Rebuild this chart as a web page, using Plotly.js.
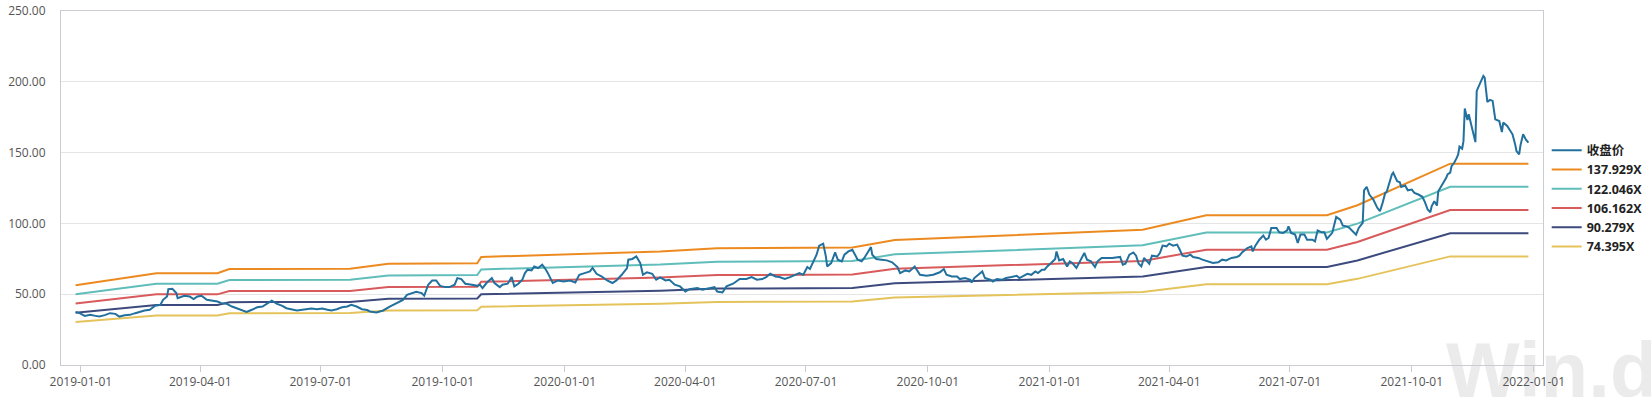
<!DOCTYPE html>
<html>
<head>
<meta charset="utf-8">
<script src="https://cdn.plot.ly/plotly-3.0.1.min.js"></script>
<style>
html,body{margin:0;padding:0;background:#fff;}
#chart{width:1651px;height:399px;}
</style>
</head>
<body>
<div id="chart"></div>
<script>
// ---- Close price (收盘价) ----
const priceDates = [
"2018-12-28","2018-12-31","2019-01-04","2019-01-08","2019-01-12","2019-01-15","2019-01-19","2019-01-23","2019-01-27","2019-01-30",
"2019-02-03","2019-02-07","2019-02-11","2019-02-15","2019-02-18","2019-02-22","2019-02-26","2019-03-02","2019-03-04","2019-03-07",
"2019-03-08","2019-03-11","2019-03-14","2019-03-15","2019-03-18","2019-03-20","2019-03-24","2019-03-27","2019-03-30","2019-04-02",
"2019-04-06","2019-04-10","2019-04-14","2019-04-17","2019-04-21","2019-04-25","2019-04-29","2019-05-02","2019-05-06","2019-05-10",
"2019-05-14","2019-05-18","2019-05-21","2019-05-25","2019-05-29","2019-06-02","2019-06-05","2019-06-09","2019-06-13","2019-06-17",
"2019-06-20","2019-06-24","2019-06-28","2019-07-02","2019-07-06","2019-07-09","2019-07-13","2019-07-17","2019-07-21","2019-07-24",
"2019-07-28","2019-08-01","2019-08-05","2019-08-07","2019-08-12","2019-08-17","2019-08-22","2019-08-27","2019-09-01","2019-09-04",
"2019-09-08","2019-09-11","2019-09-15","2019-09-17","2019-09-20","2019-09-23","2019-09-26","2019-09-29","2019-10-03","2019-10-06",
"2019-10-10","2019-10-12","2019-10-15","2019-10-18","2019-10-23","2019-10-27","2019-10-29","2019-10-31","2019-11-03","2019-11-07",
"2019-11-09","2019-11-13","2019-11-15","2019-11-19","2019-11-22","2019-11-24","2019-11-27","2019-11-30","2019-12-02","2019-12-04",
"2019-12-07","2019-12-09","2019-12-12","2019-12-15","2019-12-17","2019-12-19","2019-12-23","2019-12-27","2019-12-31","2020-01-05",
"2020-01-09","2020-01-12","2020-01-16","2020-01-20","2020-01-22","2020-01-25","2020-01-29","2020-02-02","2020-02-06","2020-02-09",
"2020-02-13","2020-02-17","2020-02-18","2020-02-21","2020-02-24","2020-02-27","2020-02-29","2020-03-03","2020-03-07","2020-03-10",
"2020-03-13","2020-03-17","2020-03-20","2020-03-24","2020-03-28","2020-04-01","2020-04-04","2020-04-10","2020-04-14","2020-04-19",
"2020-04-23","2020-04-25","2020-04-29","2020-05-02","2020-05-07","2020-05-12","2020-05-17","2020-05-21","2020-05-25","2020-05-29",
"2020-06-01","2020-06-04","2020-06-08","2020-06-11","2020-06-15","2020-06-19","2020-06-23","2020-06-26","2020-06-29","2020-07-02",
"2020-07-04","2020-07-06","2020-07-09","2020-07-11","2020-07-14","2020-07-16","2020-07-17","2020-07-20","2020-07-23","2020-07-25",
"2020-07-28","2020-07-30","2020-08-02","2020-08-05","2020-08-07","2020-08-09","2020-08-12","2020-08-14","2020-08-17","2020-08-19",
"2020-08-20","2020-08-23","2020-08-27","2020-08-31","2020-09-04","2020-09-08","2020-09-10","2020-09-14","2020-09-17","2020-09-21",
"2020-09-25","2020-09-30","2020-10-05","2020-10-10","2020-10-13","2020-10-15","2020-10-19","2020-10-23","2020-10-25","2020-10-29",
"2020-11-02","2020-11-03","2020-11-05","2020-11-08","2020-11-11","2020-11-13","2020-11-17","2020-11-19","2020-11-22","2020-11-26",
"2020-11-29","2020-12-03","2020-12-07","2020-12-09","2020-12-12","2020-12-15","2020-12-18","2020-12-21","2020-12-23","2020-12-26",
"2020-12-28","2020-12-30","2021-01-02","2021-01-05","2021-01-06","2021-01-08","2021-01-11","2021-01-14","2021-01-16","2021-01-18",
"2021-01-21","2021-01-24","2021-01-27","2021-01-29","2021-02-01","2021-02-04","2021-02-06","2021-02-09","2021-02-13","2021-02-17",
"2021-02-23","2021-02-25","2021-02-27","2021-03-02","2021-03-05","2021-03-07","2021-03-09","2021-03-11","2021-03-13","2021-03-15",
"2021-03-17","2021-03-19","2021-03-23","2021-03-25","2021-03-27","2021-03-30","2021-04-01","2021-04-04","2021-04-07","2021-04-09",
"2021-04-11","2021-04-14","2021-04-17","2021-04-19","2021-04-23","2021-04-26","2021-04-30","2021-05-04","2021-05-08","2021-05-11",
"2021-05-14","2021-05-18","2021-05-22","2021-05-24","2021-05-26","2021-05-28","2021-05-30","2021-06-02","2021-06-03","2021-06-05",
"2021-06-08","2021-06-11","2021-06-13","2021-06-15","2021-06-17","2021-06-21","2021-06-23","2021-06-26","2021-06-29","2021-06-30",
"2021-07-02","2021-07-05","2021-07-07","2021-07-09","2021-07-12","2021-07-14","2021-07-18","2021-07-20","2021-07-22","2021-07-25",
"2021-07-27","2021-07-29","2021-07-31","2021-08-02","2021-08-05","2021-08-08","2021-08-10","2021-08-13","2021-08-15","2021-08-17",
"2021-08-20","2021-08-22","2021-08-25","2021-08-26","2021-08-28","2021-08-30","2021-09-02","2021-09-05","2021-09-07","2021-09-09",
"2021-09-11","2021-09-12","2021-09-14","2021-09-16","2021-09-17","2021-09-20","2021-09-22","2021-09-23","2021-09-26","2021-09-28",
"2021-10-01","2021-10-03","2021-10-06","2021-10-09","2021-10-11","2021-10-13","2021-10-15","2021-10-16","2021-10-18","2021-10-20",
"2021-10-21","2021-10-24","2021-10-25","2021-10-27","2021-10-28","2021-10-30","2021-10-31","2021-11-02","2021-11-04","2021-11-05",
"2021-11-06","2021-11-08","2021-11-09","2021-11-10","2021-11-12","2021-11-13","2021-11-14","2021-11-16","2021-11-18","2021-11-19",
"2021-11-21","2021-11-24","2021-11-25","2021-11-27","2021-11-29","2021-12-01","2021-12-03","2021-12-06","2021-12-08","2021-12-09",
"2021-12-12","2021-12-14","2021-12-16","2021-12-18","2021-12-19","2021-12-21","2021-12-22","2021-12-24","2021-12-26","2021-12-28"
];
const closePrice = [
37.5,36.6,34.7,35.4,34.7,34.2,35.2,36.6,36.1,34.2,
35.2,35.4,36.6,37.7,38.5,39.0,41.8,42.5,46.0,48.4,
53.6,53.8,50.8,47.2,48.4,48.9,48.4,46.5,48.4,48.9,
46.0,45.5,44.8,43.7,43.2,41.3,40.1,39.0,37.5,39.0,
40.8,41.3,43.2,45.5,43.2,41.8,40.1,39.4,38.5,39.0,
39.4,39.9,39.4,39.9,39.0,38.5,39.4,40.8,41.3,42.5,
41.3,39.4,38.8,37.8,37.1,38.5,41.3,43.7,46.0,49.6,
50.8,51.7,50.8,48.9,56.7,59.7,59.7,55.9,55.0,55.0,
56.7,61.4,60.7,57.4,56.7,55.9,56.7,54.3,57.9,61.4,
57.9,55.0,56.7,57.4,62.1,55.5,57.4,60.2,64.9,67.3,
66.8,69.6,68.5,70.8,68.5,65.4,57.9,59.7,59.0,59.7,
58.3,63.7,64.9,66.1,68.5,64.4,62.5,59.7,57.9,59.7,
63.7,68.5,74.4,74.9,76.7,72.0,63.7,65.4,64.4,60.2,
61.8,59.7,60.2,56.7,55.5,51.9,53.6,54.3,53.1,54.3,
55.0,51.9,51.2,55.5,57.4,60.7,60.7,62.1,60.2,60.7,
62.1,64.4,62.5,62.1,60.7,62.1,63.7,64.9,63.7,69.2,
67.8,72.0,77.9,84.3,85.7,76.7,69.6,72.0,79.5,74.4,
73.2,77.9,80.2,81.4,77.9,74.4,73.2,75.6,80.2,83.3,
77.9,74.9,74.4,73.9,72.5,69.2,64.9,66.8,66.1,69.6,
63.7,63.0,63.7,65.5,67.8,63.7,62.5,62.5,60.7,61.4,
60.2,58.3,61.4,63.7,66.1,61.4,60.2,59.0,60.7,60.2,
61.4,62.1,63.0,61.4,63.0,64.4,63.7,66.1,64.9,67.3,
67.3,69.6,72.0,74.9,80.2,73.9,74.9,69.6,73.2,72.0,
68.5,73.9,79.1,74.4,73.2,69.2,73.2,75.6,75.6,75.6,
76.3,70.8,71.5,77.9,79.5,77.2,71.5,69.6,75.6,73.9,
71.5,77.2,76.7,79.1,84.3,83.8,85.7,84.3,85.0,81.4,
77.2,76.7,77.9,76.3,75.6,74.4,73.2,72.0,72.5,74.4,
73.9,75.6,76.3,77.2,79.5,81.0,82.6,83.8,80.2,84.3,
88.5,91.4,88.5,89.7,96.8,96.8,93.7,93.3,95.1,97.9,
93.3,92.1,86.2,92.1,92.1,88.5,88.5,87.3,95.1,93.7,
93.7,89.0,90.9,93.3,104.6,102.7,98.4,97.9,96.8,95.1,
92.1,96.8,100.4,123.4,125.8,120.4,116.9,111.0,108.6,114.5,
121.6,122.0,128.7,134.6,135.8,129.8,129.1,125.8,126.8,123.4,
123.9,121.6,120.4,118.8,114.9,109.8,107.9,112.1,115.7,112.6,
122.7,127.5,128.2,132.2,134.6,135.8,140.4,142.8,146.4,148.7,
154.2,152.8,158.1,181.1,173.0,177.1,173.0,165.2,157.4,193.6,
197.6,204.2,203.0,185.8,187.2,186.5,173.5,172.3,164.5,171.2,
168.8,165.9,162.9,155.8,151.1,148.7,155.1,162.9,159.3,157.0
];

// ---- PE band lines (values at the dates where their slope changes) ----
const bandDates = [
"2018-12-28","2019-02-27","2019-04-14","2019-04-23","2019-07-23","2019-08-21","2019-10-27","2019-10-30","2020-03-13",
"2020-04-25","2020-08-05","2020-09-06","2021-03-12","2021-04-29","2021-07-29","2021-08-21","2021-10-30","2021-12-28"
];
const band137 = [56.40,64.80,64.80,67.80,68.00,71.50,71.80,76.30,80.20,82.50,83.00,88.30,95.50,105.80,105.80,112.80,142.20,142.20];
const band122 = [49.90,57.34,57.34,59.99,60.17,63.27,63.53,67.51,70.96,73.00,73.44,78.13,84.50,93.62,93.62,99.81,125.82,125.82];
const band106 = [43.41,49.88,49.88,52.18,52.34,55.03,55.26,58.73,61.73,63.50,63.88,67.96,73.51,81.43,81.43,86.82,109.45,109.45];
const band90  = [36.92,42.41,42.41,44.38,44.51,46.80,46.99,49.94,52.49,54.00,54.33,57.79,62.51,69.25,69.25,73.83,93.07,93.07];
const band74  = [30.42,34.95,34.95,36.57,36.68,38.57,38.73,41.15,43.26,44.50,44.77,47.63,51.51,57.07,57.07,60.84,76.70,76.70];

const seriesNames = ["收盘价","137.929X","122.046X","106.162X","90.279X","74.395X"];
const seriesColors = ["#22709d","#ec8a20","#5fbdba","#d85a5b","#3c4a7d","#e5c35b"];
const yTicks = [0,50,100,150,200,250];

const bands = [band137, band122, band106, band90, band74];
const traces = [];
bands.forEach((b, i) => {
  traces.push({
    type: "scatter", mode: "lines", x: bandDates, y: b,
    name: seriesNames[i+1], legendrank: i+2,
    line: {color: seriesColors[i+1], width: 2}, hoverinfo: "skip"
  });
});
traces.push({
  type: "scatter", mode: "lines", x: priceDates, y: closePrice,
  name: seriesNames[0], legendrank: 1,
  line: {color: seriesColors[0], width: 2}
});

const layout = {
  width: 1651, height: 399,
  margin: {l: 61, r: 108, t: 11, b: 34, autoexpand: false},
  paper_bgcolor: "#ffffff", plot_bgcolor: "#ffffff",
  font: {family: "Open Sans, Noto Sans CJK SC, sans-serif", size: 12, color: "#555"},
  showlegend: true,
  legend: {
    x: 1.0025, xanchor: "left", y: 0.47, yanchor: "middle",
    font: {size: 12.5, color: "#222", weight: "bold", family: "Open Sans, Noto Sans CJK SC, sans-serif"},
    tracegroupgap: 0, itemwidth: 30, bgcolor: "rgba(0,0,0,0)"
  },
  xaxis: {
    type: "date",
    range: ["2018-12-17", "2022-01-08"],
    tick0: "2019-01-01", dtick: "M3", tickformat: "%Y-%m-%d",
    showgrid: false, zeroline: false, automargin: false,
    showline: true, linecolor: "#c9ccd3", linewidth: 1, mirror: true,
    ticks: "outside", ticklen: 6, tickcolor: "#c9ccd3",
    tickfont: {size: 12, color: "#555"}
  },
  yaxis: {
    range: [0, 250], tickvals: yTicks, tickformat: ".2f",
    showgrid: true, gridcolor: "#e5e5e5", gridwidth: 1, zeroline: false, automargin: false,
    showline: true, linecolor: "#c9ccd3", linewidth: 1, mirror: true,
    ticks: "", ticklabelstandoff: 12,
    tickfont: {size: 12, color: "#555"}
  },
  shapes: [{
    type: "rect", xref: "paper", yref: "paper", layer: "below",
    x0: 0.9325, x1: 1.25, y0: -0.12, y1: 0.13,
    line: {width: 0}, fillcolor: "rgba(0,0,0,0)",
    label: {text: "Win.d", textposition: "middle left", padding: 0,
            font: {size: 78, color: "#ebebeb", family: "Liberation Sans, Arial, sans-serif", weight: "bold"}}
  }]
};

Plotly.newPlot("chart", traces, layout, {displayModeBar: false, staticPlot: true});
</script>
</body>
</html>
